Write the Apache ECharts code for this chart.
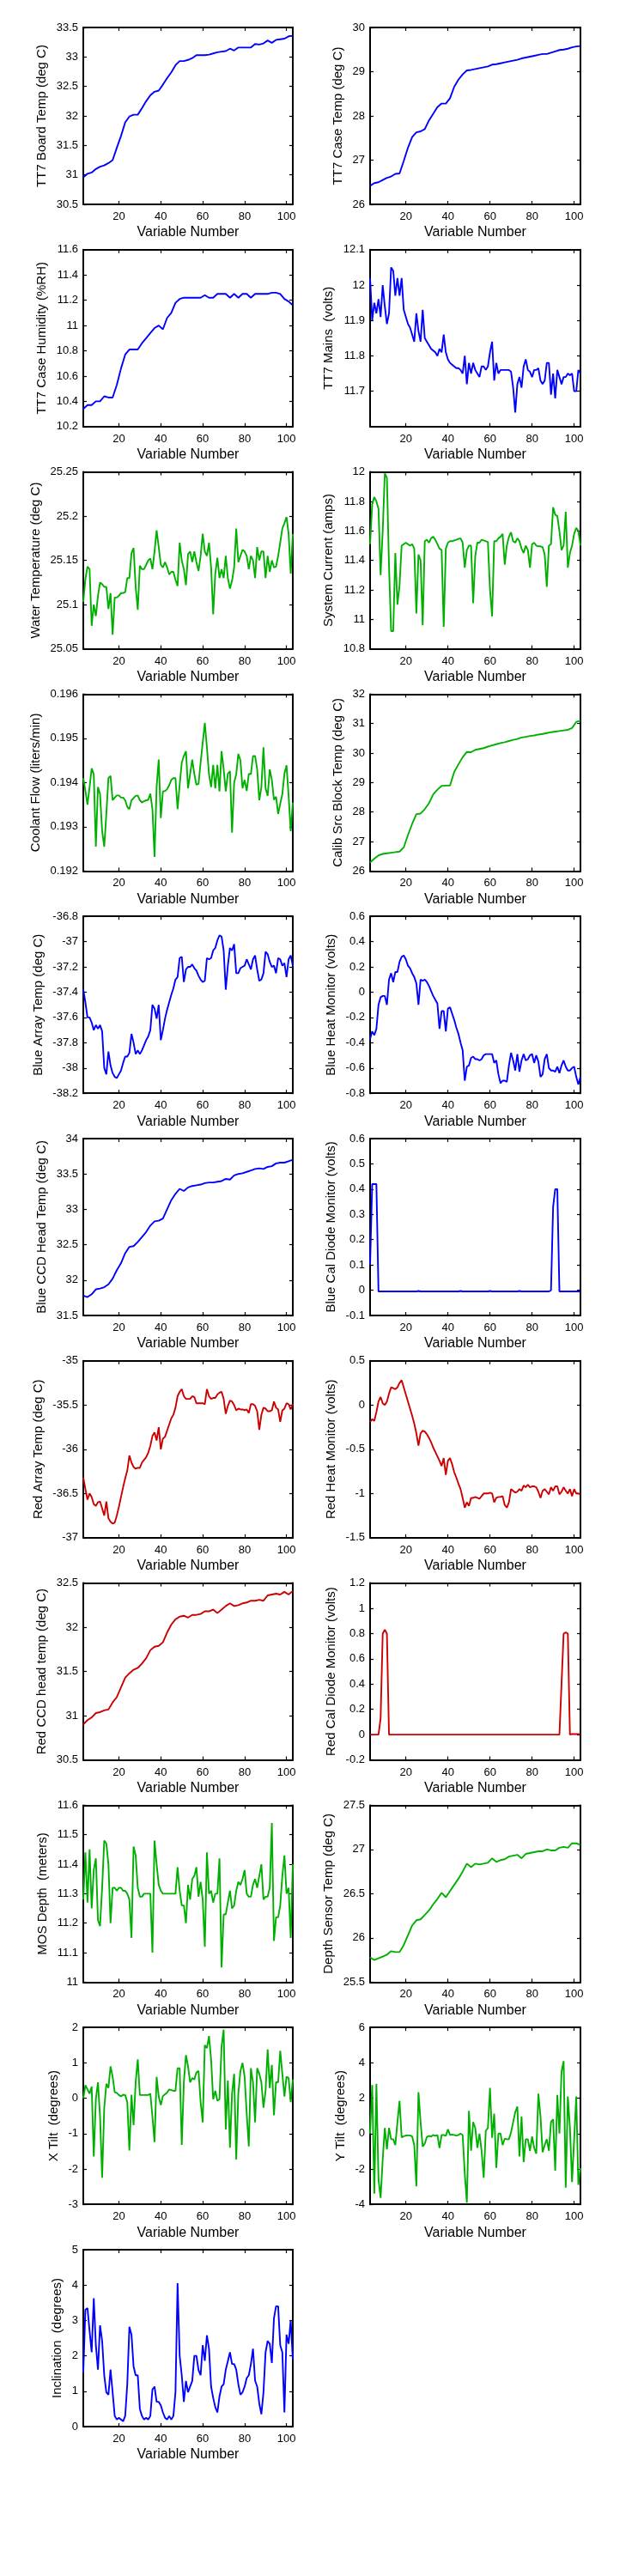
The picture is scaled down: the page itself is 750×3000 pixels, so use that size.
<!DOCTYPE html>
<html>
<head>
<meta charset="utf-8">
<script src="https://cdn.jsdelivr.net/npm/echarts@6/dist/echarts.min.js"></script>
<style>
  html, body { margin: 0; padding: 0; background: #fff; }
  #chart { width: 750px; height: 3000px; }
</style>
</head>
<body>
<div id="chart"></div>
<script>
// variable number (sample index) used on every x axis
const varNumFine = Array.from({ length: 101 }, (_, i) => 3 + i)      // 3..103
const varNumCoarse = Array.from({ length: 51 }, (_, i) => 3 + 2 * i) // 3,5..103
const xTicks = [20, 40, 60, 80, 100]

// ---- series values ----
const tt7BoardTemp = [30.96,31.02,31.04,31.1,31.14,31.16,31.2,31.25,31.46,31.66,31.89,31.99,32.02,32.02,32.13,32.25,32.35,32.41,32.43,32.53,32.64,32.74,32.86,32.93,32.93,32.95,32.98,33.03,33.03,33.03,33.04,33.06,33.08,33.09,33.1,33.14,33.11,33.16,33.16,33.16,33.16,33.22,33.21,33.23,33.28,33.24,33.29,33.3,33.31,33.35,33.36]
const tt7CaseTemp = [26.42,26.48,26.5,26.55,26.6,26.63,26.69,26.7,26.98,27.28,27.52,27.63,27.65,27.7,27.9,28.05,28.2,28.28,28.28,28.4,28.66,28.82,28.94,29.03,29.04,29.06,29.08,29.1,29.12,29.16,29.17,29.19,29.21,29.23,29.25,29.27,29.3,29.32,29.34,29.36,29.38,29.4,29.4,29.43,29.46,29.49,29.5,29.52,29.55,29.57,29.58]
const tt7Humidity = [10.34,10.37,10.37,10.4,10.4,10.44,10.43,10.43,10.53,10.66,10.77,10.81,10.81,10.81,10.86,10.9,10.94,10.98,11.0,10.97,11.06,11.1,11.18,11.21,11.22,11.22,11.22,11.22,11.22,11.24,11.22,11.22,11.25,11.25,11.25,11.22,11.25,11.22,11.25,11.25,11.22,11.25,11.25,11.25,11.25,11.26,11.26,11.25,11.21,11.19,11.16]
const tt7Mains = [
  12.02,11.90,11.95,11.92,11.96,11.91,12.0,11.94,11.89,11.92,
  12.05,12.04,11.97,12.02,11.97,12.02,11.93,11.91,11.89,11.88,
  11.86,11.84,11.92,11.87,11.84,11.93,11.85,11.84,11.83,11.82,
  11.815,11.81,11.80,11.82,11.81,11.86,11.81,11.79,11.78,11.775,
  11.77,11.765,11.765,11.76,11.75,11.80,11.72,11.78,11.75,11.78,
  11.76,11.75,11.74,11.77,11.77,11.76,11.77,11.81,11.84,11.73,
  11.78,11.75,11.76,11.76,11.76,11.76,11.76,11.755,11.71,11.64,
  11.72,11.74,11.71,11.77,11.79,11.76,11.755,11.74,11.76,11.76,
  11.765,11.73,11.72,11.73,11.78,11.78,11.69,11.75,11.68,11.76,
  11.74,11.72,11.74,11.74,11.75,11.745,11.75,11.7,11.7,11.76,11.75]
const waterTemp = [
  25.103,25.129,25.143,25.14,25.076,25.1,25.087,25.11,25.125,25.123,
  25.12,25.12,25.095,25.113,25.066,25.108,25.108,25.11,25.113,25.113,
  25.114,25.13,25.13,25.158,25.164,25.12,25.094,25.144,25.14,25.14,
  25.145,25.15,25.152,25.14,25.16,25.184,25.165,25.145,25.142,25.148,
  25.142,25.134,25.137,25.137,25.128,25.121,25.17,25.15,25.14,25.122,
  25.157,25.16,25.148,25.16,25.148,25.138,25.155,25.18,25.16,25.155,
  25.17,25.142,25.089,25.135,25.153,25.13,25.14,25.13,25.155,25.13,
  25.118,25.127,25.142,25.186,25.148,25.155,25.162,25.16,25.155,25.14,
  25.155,25.15,25.13,25.165,25.15,25.16,25.16,25.13,25.155,25.137,
  25.15,25.142,25.143,25.155,25.17,25.186,25.192,25.199,25.18,25.135,25.18]
const systemCurrent = [
  11.51,11.78,11.83,11.8,11.75,11.3,11.6,11.99,11.96,11.36,
  10.92,10.92,11.45,11.1,11.23,11.5,11.51,11.52,11.51,11.5,
  11.51,11.48,11.04,11.44,11.4,10.96,11.53,11.54,11.52,11.55,
  11.56,11.54,11.51,11.48,11.47,10.95,11.48,11.52,11.53,11.53,
  11.535,11.54,11.545,11.55,11.52,11.35,11.47,11.5,11.5,11.11,
  11.43,11.52,11.52,11.54,11.535,11.53,11.525,11.2,11.02,11.53,
  11.53,11.55,11.56,11.58,11.37,11.5,11.56,11.59,11.53,11.52,
  11.55,11.53,11.48,11.45,11.5,11.47,11.35,11.51,11.52,11.5,
  11.495,11.495,11.49,11.44,11.22,11.5,11.51,11.76,11.71,11.7,
  11.6,11.47,11.5,11.73,11.35,11.45,11.5,11.58,11.62,11.6,11.5]
const coolantFlow = [
  0.19410,0.19381,0.19350,0.19390,0.19432,0.19419,0.19255,0.19390,0.19374,0.19290,
  0.19255,0.19329,0.19410,0.19415,0.19360,0.19366,0.19371,0.19371,0.19366,0.19366,
  0.19360,0.19345,0.19340,0.19360,0.19365,0.19370,0.19371,0.19360,0.19355,0.19358,
  0.19360,0.19361,0.19375,0.19340,0.19232,0.19390,0.19452,0.19320,0.19380,0.19381,
  0.19385,0.19394,0.19406,0.19410,0.19410,0.19340,0.19395,0.19445,0.19460,0.19471,
  0.19387,0.19420,0.19452,0.19419,0.19395,0.19397,0.19445,0.19490,0.19535,0.19480,
  0.19419,0.19390,0.19440,0.19387,0.19440,0.19380,0.19471,0.19430,0.19380,0.19420,
  0.19426,0.19287,0.19400,0.19419,0.19465,0.19450,0.19387,0.19406,0.19381,0.19420,
  0.19419,0.19460,0.19460,0.19430,0.19360,0.19390,0.19480,0.19387,0.19370,0.19430,
  0.19406,0.19361,0.19368,0.19329,0.19352,0.19374,0.19420,0.19439,0.19370,0.19290,0.19355]
const calibBlockTemp = [26.29,26.42,26.53,26.58,26.6,26.62,26.64,26.66,26.8,27.22,27.6,27.93,27.95,28.1,28.3,28.6,28.76,28.89,28.9,28.9,29.36,29.62,29.86,30.04,30.03,30.11,30.14,30.17,30.22,30.26,30.3,30.34,30.37,30.41,30.45,30.48,30.53,30.55,30.58,30.6,30.63,30.65,30.68,30.71,30.73,30.75,30.77,30.79,30.85,31.06,31.1]
const blueArrayTemp = [
  -37.38,-37.48,-37.6,-37.6,-37.64,-37.7,-37.66,-37.69,-37.66,-37.71,
  -38.0,-38.05,-37.87,-37.98,-38.04,-38.07,-38.08,-38.05,-38.02,-37.96,
  -37.91,-37.91,-37.88,-37.73,-37.8,-37.89,-37.86,-37.89,-37.86,-37.82,
  -37.78,-37.75,-37.7,-37.5,-37.53,-37.61,-37.5,-37.78,-37.7,-37.61,
  -37.54,-37.48,-37.42,-37.37,-37.3,-37.28,-37.13,-37.12,-37.32,-37.22,
  -37.2,-37.2,-37.18,-37.21,-37.23,-37.27,-37.3,-37.32,-37.31,-37.13,
  -37.14,-37.13,-37.07,-37.05,-36.99,-36.95,-36.96,-37.07,-37.38,-37.19,
  -37.05,-37.07,-37.02,-37.25,-37.25,-37.21,-37.2,-37.19,-37.14,-37.18,
  -37.22,-37.14,-37.11,-37.22,-37.31,-37.3,-37.25,-37.08,-37.1,-37.16,
  -37.2,-37.19,-37.25,-37.13,-37.14,-37.19,-37.17,-37.28,-37.14,-37.11,-37.19]
const blueHeatMon = [
  -0.37,-0.31,-0.34,-0.29,-0.1,-0.04,-0.03,-0.03,-0.1,0.1,
  0.15,0.08,0.16,0.16,0.24,0.28,0.29,0.26,0.21,0.19,
  0.15,0.12,0.07,-0.1,0.1,0.09,0.1,0.08,0.05,0.01,
  -0.03,-0.06,-0.09,-0.29,-0.15,-0.15,-0.31,-0.13,-0.12,-0.17,
  -0.22,-0.28,-0.33,-0.4,-0.46,-0.7,-0.59,-0.58,-0.52,-0.51,
  -0.53,-0.53,-0.54,-0.53,-0.5,-0.49,-0.49,-0.49,-0.49,-0.56,
  -0.54,-0.65,-0.72,-0.7,-0.7,-0.71,-0.58,-0.48,-0.54,-0.62,
  -0.49,-0.63,-0.54,-0.49,-0.54,-0.53,-0.5,-0.49,-0.56,-0.5,
  -0.55,-0.67,-0.65,-0.53,-0.49,-0.6,-0.62,-0.62,-0.63,-0.59,
  -0.64,-0.58,-0.54,-0.59,-0.62,-0.62,-0.6,-0.59,-0.67,-0.73,-0.67]
const blueCcdTemp = [31.78,31.76,31.8,31.87,31.88,31.9,31.94,32.02,32.14,32.24,32.38,32.47,32.48,32.54,32.61,32.68,32.77,32.83,32.84,32.87,33.0,33.13,33.22,33.29,33.26,33.31,33.33,33.34,33.35,33.37,33.38,33.38,33.39,33.4,33.43,33.42,33.48,33.5,33.51,33.53,33.55,33.57,33.58,33.57,33.6,33.61,33.65,33.66,33.66,33.68,33.7]
const blueCalDiode = [
  0.1,0.42,0.42,0.42,-0.005,-0.005,-0.005,-0.005,-0.005,-0.005,
  -0.005,-0.005,-0.005,-0.005,-0.005,-0.005,-0.005,-0.005,-0.005,-0.005,
  -0.005,-0.005,-0.005,-0.003,-0.005,-0.005,-0.005,-0.005,-0.005,-0.005,
  -0.005,-0.005,-0.005,-0.005,-0.005,-0.005,-0.005,-0.005,-0.005,-0.005,
  -0.005,-0.005,-0.005,-0.003,-0.005,-0.005,-0.005,-0.005,-0.005,-0.005,
  -0.005,-0.005,-0.005,-0.005,-0.005,-0.005,-0.005,-0.003,-0.005,-0.005,
  -0.005,-0.005,-0.005,-0.005,-0.005,-0.005,-0.005,-0.005,-0.005,-0.005,
  -0.005,-0.003,-0.005,-0.005,-0.005,-0.005,-0.005,-0.005,-0.005,-0.005,
  -0.005,-0.005,-0.005,-0.005,-0.005,-0.005,0.0,0.33,0.4,0.4,
  -0.005,-0.005,-0.005,-0.005,-0.005,-0.005,-0.005,-0.005,-0.005,-0.005,-0.005]
const redArrayTemp = [
  -36.32,-36.45,-36.57,-36.5,-36.54,-36.62,-36.64,-36.6,-36.59,-36.67,
  -36.75,-36.59,-36.78,-36.82,-36.84,-36.83,-36.75,-36.65,-36.54,-36.43,
  -36.33,-36.24,-36.07,-36.15,-36.2,-36.22,-36.21,-36.21,-36.15,-36.12,
  -36.09,-36.04,-35.96,-35.85,-35.81,-35.9,-35.75,-36.0,-35.88,-35.86,
  -35.79,-35.72,-35.65,-35.61,-35.53,-35.4,-35.35,-35.32,-35.4,-35.43,
  -35.43,-35.43,-35.4,-35.41,-35.48,-35.48,-35.48,-35.48,-35.49,-35.32,
  -35.4,-35.43,-35.42,-35.42,-35.38,-35.36,-35.35,-35.43,-35.6,-35.51,
  -35.45,-35.46,-35.5,-35.56,-35.54,-35.55,-35.55,-35.56,-35.55,-35.59,
  -35.49,-35.49,-35.51,-35.57,-35.78,-35.61,-35.53,-35.54,-35.57,-35.57,
  -35.56,-35.46,-35.53,-35.55,-35.69,-35.56,-35.54,-35.48,-35.49,-35.55,-35.49]
const redHeatMon = [
  -0.19,-0.16,-0.18,-0.08,0.04,0.09,0.02,0.0,0.04,0.13,
  0.2,0.19,0.18,0.2,0.25,0.28,0.2,0.12,0.04,-0.04,
  -0.12,-0.21,-0.32,-0.46,-0.32,-0.29,-0.3,-0.33,-0.37,-0.42,
  -0.48,-0.53,-0.58,-0.63,-0.69,-0.6,-0.79,-0.63,-0.6,-0.67,
  -0.76,-0.82,-0.89,-0.95,-1.05,-1.16,-1.1,-1.14,-1.05,-1.05,
  -1.04,-1.05,-1.06,-1.03,-1.0,-1.0,-1.0,-0.99,-1.0,-1.1,
  -1.05,-1.04,-1.04,-1.03,-1.13,-1.16,-1.1,-0.95,-0.97,-0.99,
  -0.98,-0.95,-0.97,-0.91,-0.93,-0.9,-0.93,-0.92,-0.92,-0.93,
  -0.98,-1.05,-0.97,-0.95,-0.98,-1.01,-0.93,-0.97,-0.92,-0.92,
  -1.01,-0.98,-0.93,-0.97,-1.0,-0.95,-1.03,-0.95,-1.0,-1.0,-1.01]
const redCcdTemp = [30.9,30.95,30.98,31.03,31.04,31.06,31.07,31.15,31.21,31.32,31.43,31.48,31.52,31.54,31.59,31.65,31.74,31.78,31.79,31.83,31.94,32.03,32.09,32.12,32.13,32.11,32.14,32.14,32.15,32.18,32.18,32.2,32.16,32.2,32.24,32.27,32.24,32.25,32.27,32.28,32.3,32.3,32.31,32.3,32.36,32.37,32.38,32.37,32.4,32.37,32.41]
const redCalDiode = [
  0,0,0,0,0,0.13,0.8,0.83,0.8,0,
  0,0,0,0,0,0,0,0,0,0,
  0,0,0,0,0,0,0,0,0,0,
  0,0,0,0,0,0,0,0,0,0,
  0,0,0,0,0,0,0,0,0,0,
  0,0,0,0,0,0,0,0,0,0,
  0,0,0,0,0,0,0,0,0,0,
  0,0,0,0,0,0,0,0,0,0,
  0,0,0,0,0,0,0,0,0,0,
  0,0.4,0.8,0.81,0.8,0,0.005,0.005,0.005,0.005,0]
const mosDepth = [
  11.28,11.44,11.27,11.45,11.25,11.38,11.42,11.21,11.19,11.32,
  11.48,11.47,11.4,11.2,11.32,11.32,11.31,11.32,11.32,11.31,
  11.31,11.3,11.28,11.15,11.46,11.43,11.32,11.29,11.29,11.3,
  11.3,11.3,11.3,11.1,11.48,11.4,11.33,11.31,11.3,11.3,
  11.3,11.3,11.3,11.3,11.3,11.39,11.31,11.26,11.26,11.2,
  11.33,11.28,11.35,11.36,11.39,11.29,11.34,11.28,11.12,11.44,
  11.3,11.31,11.27,11.3,11.3,11.42,11.05,11.23,11.23,11.27,
  11.31,11.25,11.26,11.31,11.34,11.33,11.35,11.38,11.3,11.29,
  11.29,11.33,11.35,11.32,11.36,11.4,11.28,11.29,11.29,11.32,
  11.54,11.14,11.22,11.22,11.26,11.36,11.43,11.3,11.32,11.15,11.4]
const depthSensorTemp = [25.78,25.75,25.77,25.79,25.81,25.85,25.84,25.84,25.92,26.03,26.14,26.2,26.21,26.26,26.31,26.38,26.44,26.51,26.46,26.53,26.6,26.67,26.75,26.84,26.8,26.84,26.83,26.84,26.85,26.9,26.86,26.88,26.89,26.92,26.93,26.94,26.9,26.95,26.96,26.97,26.98,26.98,27.0,26.99,26.99,27.02,27.03,27.02,27.07,27.07,27.05]
const xTilt = [
  0.0,0.37,0.25,0.13,0.33,-1.65,-0.03,0.45,-0.52,-2.25,
  -0.27,0.41,0.29,0.9,0.61,0.17,0.15,0.09,0.05,0.1,
  0.09,-0.11,-1.48,0.1,-0.76,0.45,1.1,0.09,0.09,0.09,
  0.09,0.09,0.13,-0.52,-1.24,0.6,0.05,-0.19,0.06,0.11,
  0.16,0.25,0.23,0.21,0.21,0.85,0.85,-1.32,0.45,1.22,
  0.9,0.45,0.57,0.53,0.73,0.77,-0.11,-0.68,1.5,1.42,
  1.76,1.1,-0.03,0.21,-0.07,-0.03,1.46,1.94,-0.88,0.5,
  -1.4,0.13,0.69,-1.73,0.13,0.77,1.0,0.61,-0.44,-1.36,
  0.85,0.45,-0.68,0.85,0.69,0.45,-0.27,0.21,1.38,0.29,
  0.94,-0.48,0.45,0.45,1.34,0.69,0.05,0.61,0.57,-0.11,0.53]
const yTilt = [
  0,2.74,-3.39,2.82,-2.58,-3.63,-1.45,0.32,-0.89,0.32,
  -0.32,-0.32,-0.65,0.65,1.85,-0.21,-0.15,-0.11,-0.1,-0.1,
  -0.16,-0.65,-2.98,2.34,0.65,-0.73,-0.56,-0.19,-0.13,-0.16,
  -0.08,-0.13,-0.08,-0.81,-0.08,-0.08,-0.13,0.24,-0.08,-0.05,
  -0.08,-0.11,-0.08,0,-0.08,-2.26,-3.9,1.29,-0.97,0.65,
  0.32,-0.81,0,-0.97,-2.5,0.16,0.32,2.58,-0.24,1.13,
  -1.94,0,0,-0.65,-0.29,-0.32,-0.32,0.08,0.65,1.21,
  1.53,-1.29,0.97,-1.61,-0.32,-0.32,-0.97,-0.16,-0.81,-1.13,
  2.26,0.97,-1.05,-0.65,-0.32,-0.97,0.65,0.81,-2.1,2.18,
  0,3.5,4.1,-3.06,2.1,0.32,-2.74,-0.32,2.1,-2.9,-1.94]
const inclination = [
  1.53,3.3,3.35,2.7,2.1,3.63,2.3,1.61,2.86,2.42,
  1.45,0.97,0.9,1.61,0.97,0.3,0.2,0.25,0.2,0.15,
  0.3,1.2,2.82,2.6,1.7,1.45,1.45,0.5,0.3,0.2,
  0.25,0.2,0.3,1.05,1.13,0.7,0.7,0.6,0.4,0.25,
  0.2,0.3,0.2,0.3,0.97,4.05,2.0,1.45,0.7,1.29,
  0.97,1.13,1.29,2.0,2.0,1.6,1.45,2.3,1.86,2.58,
  2.2,1.13,0.81,0.55,0.4,0.85,1.13,1.2,1.61,1.85,
  2.1,1.77,1.77,1.61,1.2,0.9,0.97,1.13,1.37,1.45,
  1.77,2.2,1.3,1.13,0.65,0.35,0.97,2.1,2.42,2.34,
  1.8,3.06,3.4,3.4,2.3,2.1,0.4,2.6,2.34,3.0,1.9]

// ---- y tick labels per panel ----
const tt7BoardTicks = [30.5, 31, 31.5, 32, 32.5, 33, 33.5]
const tt7CaseTicks = [26, 27, 28, 29, 30]
const humidityTicks = [10.2, 10.4, 10.6, 10.8, 11, 11.2, 11.4, 11.6]
const mainsTicks = [11.7, 11.8, 11.9, 12, 12.1]
const waterTicks = [25.05, 25.1, 25.15, 25.2, 25.25]
const currentTicks = [10.8, 11, 11.2, 11.4, 11.6, 11.8, 12]
const coolantTicks = [0.192, 0.193, 0.194, 0.195, 0.196]
const calibTicks = [26, 27, 28, 29, 30, 31, 32]
const blueArrayTicks = [-38.2, -38, -37.8, -37.6, -37.4, -37.2, -37, -36.8]
const blueHeatTicks = [-0.8, -0.6, -0.4, -0.2, 0, 0.2, 0.4, 0.6]
const blueCcdTicks = [31.5, 32, 32.5, 33, 33.5, 34]
const blueCalTicks = [-0.1, 0, 0.1, 0.2, 0.3, 0.4, 0.5, 0.6]
const redArrayTicks = [-37, -36.5, -36, -35.5, -35]
const redHeatTicks = [-1.5, -1, -0.5, 0, 0.5]
const redCcdTicks = [30.5, 31, 31.5, 32, 32.5]
const redCalTicks = [-0.2, 0, 0.2, 0.4, 0.6, 0.8, 1, 1.2]
const mosTicks = [11, 11.1, 11.2, 11.3, 11.4, 11.5, 11.6]
const depthTempTicks = [25.5, 26, 26.5, 27, 27.5]
const xTiltTicks = [-3, -2, -1, 0, 1, 2]
const yTiltTicks = [-4, -2, 0, 2, 4, 6]
const inclTicks = [0, 1, 2, 3, 4, 5]

const BLUE = '#0000ff'
const GREEN = '#00b000'
const RED = '#cc0000'
const FONT = '"Liberation Sans", Arial, Helvetica, sans-serif'

// panel list, in reading order (left, right, left, right ...)
const panels = [
  { name: 'TT7 Board Temp (deg C)', x: varNumCoarse, y: tt7BoardTemp, ticks: tt7BoardTicks, color: BLUE },
  { name: 'TT7 Case Temp (deg C)', x: varNumCoarse, y: tt7CaseTemp, ticks: tt7CaseTicks, color: BLUE },
  { name: 'TT7 Case Humidity (%RH)', x: varNumCoarse, y: tt7Humidity, ticks: humidityTicks, color: BLUE },
  { name: 'TT7 Mains  (volts)', x: varNumFine, y: tt7Mains, ticks: mainsTicks, min: 11.6, color: BLUE },
  { name: 'Water Temperature (deg C)', x: varNumFine, y: waterTemp, ticks: waterTicks, color: GREEN },
  { name: 'System Current (amps)', x: varNumFine, y: systemCurrent, ticks: currentTicks, color: GREEN },
  { name: 'Coolant Flow (liters/min)', x: varNumFine, y: coolantFlow, ticks: coolantTicks, color: GREEN },
  { name: 'Calib Src Block Temp (deg C)', x: varNumCoarse, y: calibBlockTemp, ticks: calibTicks, color: GREEN },
  { name: 'Blue Array Temp (deg C)', x: varNumFine, y: blueArrayTemp, ticks: blueArrayTicks, color: BLUE },
  { name: 'Blue Heat Monitor (volts)', x: varNumFine, y: blueHeatMon, ticks: blueHeatTicks, color: BLUE },
  { name: 'Blue CCD Head Temp (deg C)', x: varNumCoarse, y: blueCcdTemp, ticks: blueCcdTicks, color: BLUE },
  { name: 'Blue Cal Diode Monitor (volts)', x: varNumFine, y: blueCalDiode, ticks: blueCalTicks, color: BLUE },
  { name: 'Red Array Temp (deg C)', x: varNumFine, y: redArrayTemp, ticks: redArrayTicks, color: RED },
  { name: 'Red Heat Monitor (volts)', x: varNumFine, y: redHeatMon, ticks: redHeatTicks, color: RED },
  { name: 'Red CCD head temp (deg C)', x: varNumCoarse, y: redCcdTemp, ticks: redCcdTicks, color: RED },
  { name: 'Red Cal Diode Monitor (volts)', x: varNumFine, y: redCalDiode, ticks: redCalTicks, color: RED },
  { name: 'MOS Depth  (meters)', x: varNumFine, y: mosDepth, ticks: mosTicks, color: GREEN },
  { name: 'Depth Sensor Temp (deg C)', x: varNumCoarse, y: depthSensorTemp, ticks: depthTempTicks, color: GREEN },
  { name: 'X Tilt  (degrees)', x: varNumFine, y: xTilt, ticks: xTiltTicks, color: GREEN },
  { name: 'Y Tilt  (degrees)', x: varNumFine, y: yTilt, ticks: yTiltTicks, color: GREEN },
  { name: 'Inclination  (degrees)', x: varNumFine, y: inclination, ticks: inclTicks, color: BLUE },
]

// layout of the 2-column grid of axes
const colLeft = [97, 431]
const colWidth = [244, 245]
const rowTop0 = 32
const rowStep = 258.8
const plotHeight = 206

const fmt = v => String(+v.toFixed(5))
const measure = document.createElement('canvas').getContext('2d')
measure.font = '13px ' + FONT
const labelWidth = ticks => Math.max(...ticks.map(t => measure.measureText(fmt(t)).width))

const boxLine = { color: '#000', width: 2 }
const tickStyle = { color: '#000', width: 1.2 }
const labelStyle = { color: '#000', fontSize: 13, fontFamily: FONT }

const grid = []
const xAxis = []
const yAxis = []
const series = []

panels.forEach((p, i) => {
  const row = Math.floor(i / 2)
  const col = i % 2
  grid.push({
    left: colLeft[col],
    top: rowTop0 + row * rowStep,
    width: colWidth[col],
    height: plotHeight,
    outerBoundsMode: 'none',
  })
  const yMin = p.min !== undefined ? p.min : p.ticks[0]
  const yMax = p.ticks[p.ticks.length - 1]

  // bottom + top x axes (box with inward ticks)
  xAxis.push({
    gridIndex: i, type: 'value', min: 3, max: 103, position: 'bottom',
    name: 'Variable Number', nameLocation: 'middle', nameGap: 25,
    nameTextStyle: { fontSize: 16, color: '#000', fontFamily: FONT },
    axisLine: { onZero: false, lineStyle: boxLine },
    axisTick: { inside: true, length: 4, customValues: xTicks, lineStyle: tickStyle },
    axisLabel: Object.assign({ customValues: xTicks, margin: 8, formatter: fmt }, labelStyle),
    splitLine: { show: false },
  })
  xAxis.push({
    gridIndex: i, type: 'value', min: 3, max: 103, position: 'top',
    axisLine: { onZero: false, lineStyle: boxLine },
    axisTick: { inside: true, length: 4, customValues: xTicks, lineStyle: tickStyle },
    axisLabel: { show: false },
    splitLine: { show: false },
  })

  // left + right y axes
  yAxis.push({
    gridIndex: i, type: 'value', min: yMin, max: yMax, position: 'left',
    name: p.name, nameLocation: 'middle', nameGap: 15 + labelWidth(p.ticks),
    nameTextStyle: { fontSize: 15, color: '#000', fontFamily: FONT },
    axisLine: { onZero: false, lineStyle: boxLine },
    axisTick: { inside: true, length: 4, customValues: p.ticks, lineStyle: tickStyle },
    axisLabel: Object.assign({ customValues: p.ticks, margin: 6, formatter: fmt }, labelStyle),
    splitLine: { show: false },
  })
  yAxis.push({
    gridIndex: i, type: 'value', min: yMin, max: yMax, position: 'right',
    axisLine: { onZero: false, lineStyle: boxLine },
    axisTick: { inside: true, length: 4, customValues: p.ticks, lineStyle: tickStyle },
    axisLabel: { show: false },
    splitLine: { show: false },
  })

  const n = Math.min(p.x.length, p.y.length)
  const data = []
  for (let k = 0; k < n; k++) data.push([p.x[k], p.y[k]])
  series.push({
    type: 'line',
    xAxisIndex: 2 * i,
    yAxisIndex: 2 * i,
    data: data,
    showSymbol: false,
    symbol: 'none',
    silent: true,
    clip: true,
    lineStyle: { color: p.color, width: 1.9 },
    itemStyle: { color: p.color },
  })
})

const chart = echarts.init(document.getElementById('chart'), null, { renderer: 'canvas' })
chart.setOption({
  animation: false,
  backgroundColor: '#fff',
  grid: grid,
  xAxis: xAxis,
  yAxis: yAxis,
  series: series,
})
</script>
</body>
</html>
